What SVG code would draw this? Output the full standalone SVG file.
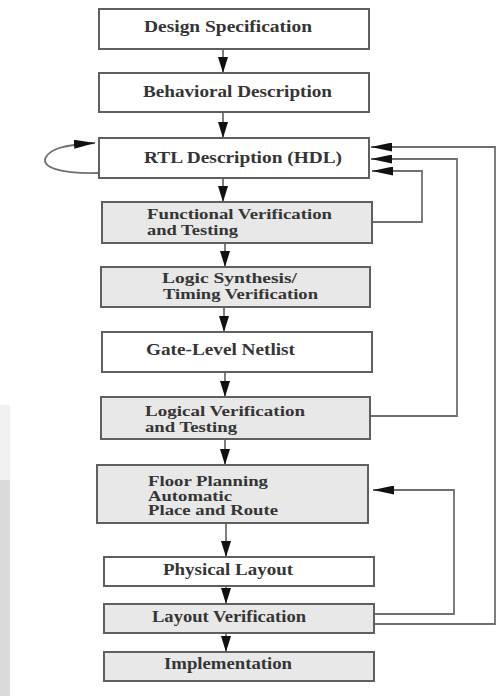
<svg xmlns="http://www.w3.org/2000/svg" width="497" height="696" viewBox="0 0 497 696">
  <style>
    .box { stroke: #5f5f5f; stroke-width: 2; }
    .plain { fill: #ffffff; }
    .shade { fill: #e8e8e8; }
    .lbl { font-family: "Liberation Serif", "Times New Roman", serif; font-size: 16px; font-weight: bold; fill: #353535; }
    .two { font-size: 15px; }
    .wire { fill: none; stroke: #707070; stroke-width: 1.8; }
  </style>
  <defs>
    <!-- arrowheads drawn along +x, rotated to the path direction -->
    <marker id="down" markerUnits="userSpaceOnUse" markerWidth="16" markerHeight="10" refX="16" refY="5" orient="auto" viewBox="0 0 16 10">
      <polygon points="0,0 16,5 0,10" fill="#111111"/>
    </marker>
    <marker id="head" markerUnits="userSpaceOnUse" markerWidth="21" markerHeight="9" refX="21" refY="4.5" orient="auto" viewBox="0 0 21 9">
      <polygon points="0,0 21,4.5 0,9" fill="#111111"/>
    </marker>
  </defs>

  <rect width="497" height="696" fill="#ffffff"/>
  <!-- faint strip along the left edge -->
  <rect x="0" y="405" width="10" height="75" fill="#f0f0f0"/>
  <rect x="0" y="480" width="10" height="216" fill="#dadada"/>

  <g id="connectors">
    <!-- main downward flow -->
    <line class="wire" x1="223" y1="49" x2="223" y2="73" marker-end="url(#down)"/>
    <line class="wire" x1="223" y1="112" x2="223" y2="138" marker-end="url(#down)"/>
    <line class="wire" x1="223" y1="178" x2="223" y2="202" marker-end="url(#down)"/>
    <line class="wire" x1="225" y1="243" x2="225" y2="267" marker-end="url(#down)"/>
    <line class="wire" x1="224" y1="307" x2="224" y2="332" marker-end="url(#down)"/>
    <line class="wire" x1="225" y1="372" x2="225" y2="397" marker-end="url(#down)"/>
    <line class="wire" x1="225" y1="439" x2="225" y2="465" marker-end="url(#down)"/>
    <line class="wire" x1="226" y1="523" x2="226" y2="557" marker-end="url(#down)"/>
    <line class="wire" x1="226" y1="586" x2="226" y2="604" marker-end="url(#down)"/>
    <line class="wire" x1="226" y1="633" x2="226" y2="652" marker-end="url(#down)"/>

    <!-- self loop on RTL description -->
    <path class="wire" d="M 99 173 C 60 174, 40 167, 46 157 C 51 149, 62 145, 95 143" marker-end="url(#head)"/>

    <!-- feedback paths back to RTL description -->
    <polyline class="wire" points="372,222 422,222 422,171 372,171" marker-end="url(#head)"/>
    <polyline class="wire" points="370,416 457,416 457,159 371,159" marker-end="url(#head)"/>
    <polyline class="wire" points="374,624 495,624 495,147 371,147" marker-end="url(#head)"/>

    <!-- layout verification back to floor planning -->
    <polyline class="wire" points="374,614 454,614 454,490 373,490" marker-end="url(#head)"/>
  </g>

  <g id="design-spec">
    <rect class="box plain" x="99" y="9" width="270" height="40"/>
    <text class="lbl" x="144" y="32" textLength="168" lengthAdjust="spacingAndGlyphs">Design Specification</text>
  </g>
  <g id="behavioral">
    <rect class="box plain" x="99" y="73" width="270" height="39"/>
    <text class="lbl" x="143" y="96.5" textLength="189" lengthAdjust="spacingAndGlyphs">Behavioral Description</text>
  </g>
  <g id="rtl">
    <rect class="box plain" x="99" y="138" width="270" height="40"/>
    <text class="lbl" x="144" y="163" textLength="198" lengthAdjust="spacingAndGlyphs">RTL Description (HDL)</text>
  </g>
  <g id="functional-verification">
    <rect class="box shade" x="102" y="202" width="270" height="41"/>
    <text class="lbl two" x="147" y="219" textLength="185" lengthAdjust="spacingAndGlyphs">Functional Verification</text>
    <text class="lbl two" x="147" y="235" textLength="91" lengthAdjust="spacingAndGlyphs">and Testing</text>
  </g>
  <g id="logic-synthesis">
    <rect class="box shade" x="101" y="267" width="269" height="40"/>
    <text class="lbl two" x="162" y="283" textLength="135" lengthAdjust="spacingAndGlyphs">Logic Synthesis/</text>
    <text class="lbl two" x="163" y="299" textLength="155" lengthAdjust="spacingAndGlyphs">Timing Verification</text>
  </g>
  <g id="gate-netlist">
    <rect class="box plain" x="102" y="332" width="270" height="40"/>
    <text class="lbl" x="146" y="355" textLength="149" lengthAdjust="spacingAndGlyphs">Gate-Level Netlist</text>
  </g>
  <g id="logical-verification">
    <rect class="box shade" x="101" y="397" width="269" height="42"/>
    <text class="lbl two" x="145" y="416" textLength="160" lengthAdjust="spacingAndGlyphs">Logical Verification</text>
    <text class="lbl two" x="145" y="431.5" textLength="92" lengthAdjust="spacingAndGlyphs">and Testing</text>
  </g>
  <g id="floor-planning">
    <rect class="box shade" x="97" y="465" width="271" height="58"/>
    <text class="lbl two" x="148" y="486" textLength="120" lengthAdjust="spacingAndGlyphs">Floor Planning</text>
    <text class="lbl two" x="148" y="500.5" textLength="84" lengthAdjust="spacingAndGlyphs">Automatic</text>
    <text class="lbl two" x="148" y="515" textLength="130" lengthAdjust="spacingAndGlyphs">Place and Route</text>
  </g>
  <g id="physical-layout">
    <rect class="box plain" x="104" y="557" width="270" height="29"/>
    <text class="lbl" x="163" y="575" textLength="130" lengthAdjust="spacingAndGlyphs">Physical Layout</text>
  </g>
  <g id="layout-verification">
    <rect class="box shade" x="104" y="604" width="270" height="29"/>
    <text class="lbl" x="152" y="622" textLength="154" lengthAdjust="spacingAndGlyphs">Layout Verification</text>
  </g>
  <g id="implementation">
    <rect class="box shade" x="104" y="652" width="270" height="29"/>
    <text class="lbl" x="164" y="669" textLength="128" lengthAdjust="spacingAndGlyphs">Implementation</text>
  </g>
</svg>
